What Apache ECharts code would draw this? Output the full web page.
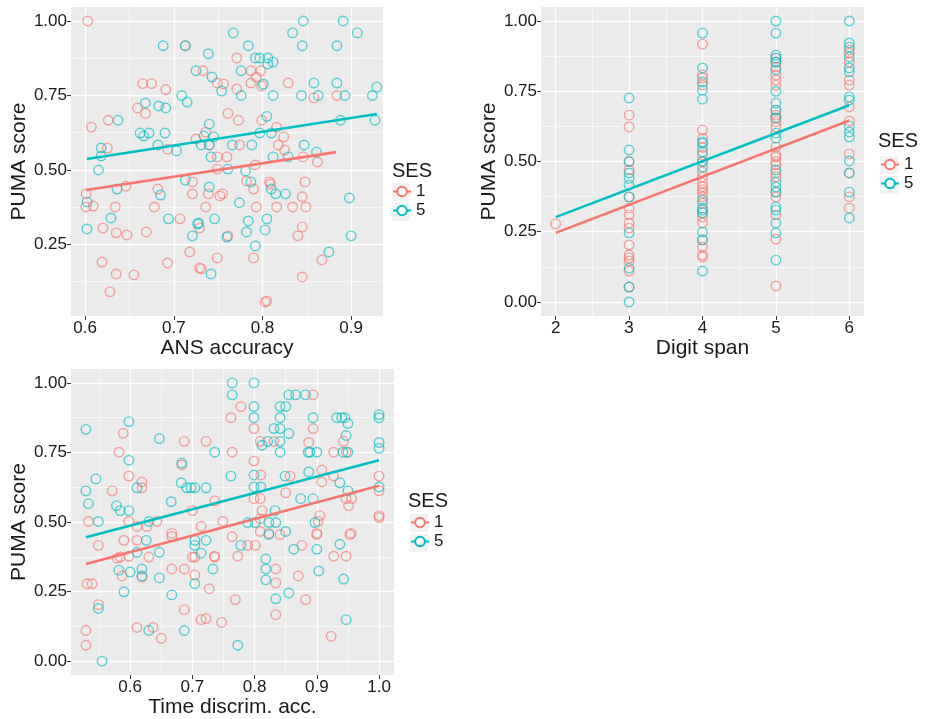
<!DOCTYPE html>
<html>
<head>
<meta charset="utf-8">
<script src="https://cdn.jsdelivr.net/npm/echarts@6/dist/echarts.min.js"></script>
<style>html,body{margin:0;padding:0;background:#fff}#main{width:927px;height:719px}</style>
</head>
<body>
<div id="main"></div>
<script>
// ANS accuracy vs PUMA score
var ansSes1 = [[0.603,1.00],[0.607,0.644],[0.626,0.667],[0.625,0.574],[0.713,0.917],[0.665,0.79],[0.675,0.79],[0.691,0.77],[0.659,0.708],[0.668,0.69],[0.693,0.57],[0.725,0.604],[0.771,0.876],[0.733,0.833],[0.787,0.833],[0.798,0.833],[0.793,0.812],[0.749,0.792],[0.756,0.789],[0.787,0.792],[0.799,0.782],[0.829,0.792],[0.858,0.742],[0.884,0.75],[0.761,0.69],[0.773,0.667],[0.799,0.667],[0.816,0.644],[0.736,0.627],[0.824,0.611],[0.740,0.584],[0.774,0.584],[0.818,0.584],[0.825,0.567],[0.749,0.544],[0.760,0.544],[0.846,0.544],[0.862,0.527],[0.771,0.772],
  [0.601,0.42],[0.601,0.376],[0.609,0.379],[0.646,0.446],[0.634,0.376],[0.62,0.305],[0.635,0.289],[0.647,0.282],[0.669,0.292],[0.619,0.191],[0.635,0.151],[0.655,0.148],[0.628,0.091],[0.682,0.436],[0.678,0.376],[0.707,0.336],[0.693,0.188],[0.721,0.46],[0.721,0.42],[0.718,0.225],[0.729,0.171],[0.749,0.503],[0.792,0.517],[0.739,0.42],[0.752,0.413],[0.755,0.42],[0.782,0.463],[0.79,0.436],[0.808,0.46],[0.809,0.453],[0.848,0.46],[0.845,0.41],[0.736,0.376],[0.793,0.376],[0.816,0.376],[0.834,0.376],[0.849,0.376],[0.729,0.305],[0.845,0.309],[0.761,0.279],[0.84,0.279],[0.749,0.205],[0.79,0.205],[0.867,0.198],[0.731,0.168],[0.845,0.141],[0.803,0.057],[0.805,0.06]];
var ansSes5 = [[0.637,0.667],[0.618,0.574],[0.618,0.547],[0.688,0.917],[0.713,0.917],[0.668,0.725],[0.683,0.715],[0.691,0.708],[0.709,0.75],[0.715,0.728],[0.725,0.833],[0.662,0.624],[0.666,0.614],[0.672,0.624],[0.69,0.624],[0.682,0.584],[0.703,0.564],
  [0.846,1.0],[0.891,1.0],[0.767,0.96],[0.834,0.96],[0.907,0.96],[0.784,0.917],[0.845,0.917],[0.884,0.917],[0.739,0.89],[0.792,0.876],[0.797,0.876],[0.806,0.876],[0.812,0.862],[0.806,0.856],[0.776,0.833],[0.743,0.812],[0.801,0.788],[0.858,0.792],[0.884,0.792],[0.754,0.765],[0.776,0.75],[0.812,0.75],[0.844,0.75],[0.863,0.75],[0.893,0.75],[0.924,0.75],[0.929,0.778],[0.805,0.68],[0.888,0.667],[0.927,0.667],[0.740,0.654],[0.734,0.614],[0.745,0.611],[0.797,0.624],[0.810,0.624],[0.731,0.584],[0.740,0.584],[0.766,0.584],[0.788,0.584],[0.847,0.584],[0.742,0.544],[0.812,0.544],[0.829,0.544],[0.861,0.56],
  [0.615,0.50],[0.602,0.393],[0.636,0.436],[0.629,0.339],[0.602,0.302],[0.685,0.416],[0.694,0.336],[0.713,0.466],[0.727,0.319],[0.721,0.279],[0.761,0.503],[0.781,0.497],[0.740,0.443],[0.787,0.46],[0.81,0.436],[0.815,0.42],[0.826,0.42],[0.774,0.39],[0.898,0.406],[0.746,0.336],[0.728,0.322],[0.784,0.329],[0.805,0.336],[0.782,0.292],[0.803,0.299],[0.76,0.275],[0.9,0.279],[0.792,0.245],[0.875,0.225],[0.742,0.151]];
var ansFit1 = [[0.601,0.433],[0.883,0.56]];
var ansFit5 = [[0.602,0.537],[0.929,0.688]];

// Digit span vs PUMA score
var spanSes1 = [[2,0.278],
  [3,0.665],[3,0.623],[3,0.5],[3,0.47],[3,0.374],[3,0.334],[3,0.31],[3,0.281],[3,0.263],[3,0.203],[3,0.167],[3,0.157],[3,0.146],[3,0.11],[3,0.053],
  [4,0.918],[4,0.808],[4,0.797],[4,0.772],[4,0.612],[4,0.583],[4,0.55],[4,0.523],[4,0.5],[4,0.463],[4,0.445],[4,0.423],[4,0.41],[4,0.4],[4,0.388],[4,0.374],[4,0.352],[4,0.317],[4,0.302],[4,0.281],[4,0.221],[4,0.196],[4,0.167],[4,0.16],
  [5,0.868],[5,0.854],[5,0.836],[5,0.808],[5,0.79],[5,0.772],[5,0.683],[5,0.665],[5,0.655],[5,0.641],[5,0.623],[5,0.552],[5,0.523],[5,0.516],[5,0.5],[5,0.488],[5,0.459],[5,0.445],[5,0.391],[5,0.374],[5,0.31],[5,0.224],[5,0.057],
  [6,0.897],[6,0.886],[6,0.854],[6,0.79],[6,0.772],[6,0.694],[6,0.644],[6,0.527],[6,0.459],[6,0.374],[6,0.334]];
var spanSes5 = [
  [3,0.726],[3,0.541],[3,0.5],[3,0.459],[3,0.44],[3,0.416],[3,0.374],[3,0.246],[3,0.12],[3,0.053],[3,0.0],
  [4,0.957],[4,0.833],[4,0.783],[4,0.754],[4,0.722],[4,0.57],[4,0.565],[4,0.534],[4,0.5],[4,0.48],[4,0.363],[4,0.334],[4,0.327],[4,0.317],[4,0.249],[4,0.221],[4,0.11],
  [5,1.0],[5,0.957],[5,0.879],[5,0.868],[5,0.854],[5,0.826],[5,0.75],[5,0.708],[5,0.683],[5,0.655],[5,0.601],[5,0.583],[5,0.47],[5,0.427],[5,0.409],[5,0.391],[5,0.338],[5,0.327],[5,0.281],[5,0.246],[5,0.149],
  [6,1.0],[6,0.922],[6,0.907],[6,0.872],[6,0.833],[6,0.819],[6,0.73],[6,0.719],[6,0.626],[6,0.605],[6,0.587],[6,0.502],[6,0.459],[6,0.391],[6,0.299]];
var spanFit1 = [[2,0.246],[6,0.646]];
var spanFit5 = [[2,0.302],[6,0.70]];

// Time discrimination accuracy vs PUMA score
var timeSes1 = [[0.589,0.819],[0.687,0.79],[0.722,0.79],[0.582,0.751],[0.683,0.705],[0.598,0.665],[0.619,0.644],[0.619,0.623],[0.571,0.612],[0.7,0.541],[0.736,0.576],[0.533,0.502],[0.598,0.502],[0.611,0.484],[0.627,0.484],[0.643,0.502],[0.714,0.484],[0.667,0.459],[0.667,0.448],
  [0.549,0.416],[0.59,0.434],[0.611,0.434],[0.579,0.37],[0.584,0.374],[0.598,0.377],[0.63,0.374],[0.7,0.374],[0.704,0.374],[0.736,0.374],[0.587,0.306],[0.619,0.302],[0.667,0.331],[0.687,0.331],[0.704,0.31],[0.531,0.278],[0.539,0.278],[0.727,0.26],[0.549,0.203],[0.687,0.185],[0.529,0.11],[0.611,0.121],[0.637,0.121],[0.65,0.082],[0.714,0.149],[0.722,0.153],[0.747,0.139],[0.529,0.057],
  [0.894,0.957],[0.778,0.915],[0.762,0.875],[0.799,0.836],[0.894,0.836],[0.809,0.79],[0.831,0.79],[0.887,0.786],[0.943,0.79],[0.764,0.751],[0.927,0.751],[0.947,0.751],[0.799,0.719],[0.81,0.669],[0.857,0.665],[0.908,0.687],[0.927,0.665],[1.0,0.665],[0.908,0.644],[1.0,0.612],[0.799,0.584],[0.809,0.584],[0.85,0.605],[0.947,0.584],[0.956,0.584],[0.951,0.559],[0.812,0.541],[0.905,0.523],[0.902,0.502],[1.0,0.523],[1.0,0.516],[0.749,0.502],[0.809,0.512],[0.764,0.447],[0.809,0.466],[0.841,0.455],[0.9,0.455],[0.953,0.455],
  [0.789,0.416],[0.801,0.416],[0.876,0.416],[0.9,0.459],[0.955,0.459],[0.823,0.459],[0.735,0.377],[0.773,0.377],[0.927,0.377],[0.947,0.377],[0.834,0.331],[0.834,0.281],[0.87,0.306],[0.769,0.221],[0.882,0.221],[0.834,0.167],[0.923,0.089]];
var timeSes5 = [[0.529,0.833],[0.598,0.861],[0.647,0.8],[0.598,0.722],[0.736,0.751],[0.683,0.712],[0.545,0.655],[0.611,0.623],[0.529,0.612],[0.682,0.641],[0.691,0.623],[0.698,0.623],[0.704,0.623],[0.722,0.623],[0.533,0.566],[0.578,0.559],[0.584,0.541],[0.598,0.541],[0.666,0.573],[0.549,0.502],[0.63,0.502],
  [0.626,0.434],[0.704,0.434],[0.704,0.416],[0.722,0.434],[0.611,0.391],[0.647,0.391],[0.714,0.388],[0.582,0.327],[0.6,0.32],[0.619,0.331],[0.619,0.306],[0.647,0.299],[0.733,0.331],[0.59,0.249],[0.667,0.238],[0.704,0.278],[0.549,0.189],[0.63,0.11],[0.687,0.11],[0.555,0.0],
  [0.764,1.0],[0.799,1.0],[0.764,0.957],[0.855,0.957],[0.866,0.957],[0.882,0.957],[0.799,0.915],[0.841,0.915],[0.85,0.915],[0.799,0.875],[0.841,0.875],[0.894,0.875],[0.932,0.875],[0.94,0.875],[0.945,0.875],[0.95,0.854],[1.0,0.886],[1.0,0.875],[0.831,0.836],[0.841,0.836],[0.855,0.818],[0.947,0.811],[0.812,0.776],[0.821,0.79],[0.841,0.79],[1.0,0.786],[1.0,0.765],[0.841,0.751],[0.886,0.751],[0.889,0.751],[0.9,0.751],[0.942,0.751],[0.95,0.751],[0.762,0.665],[0.799,0.669],[0.849,0.665],[0.887,0.68],[0.937,0.641],[0.799,0.626],[0.81,0.626],[0.874,0.584],[0.894,0.584],[0.95,0.612],[1.0,0.626],[0.833,0.541],[0.789,0.498],[0.801,0.498],[0.823,0.498],[0.834,0.498],[0.897,0.498],[0.823,0.455],[0.85,0.466],[0.937,0.42],
  [0.778,0.416],[0.863,0.402],[0.9,0.402],[0.818,0.367],[0.818,0.331],[0.818,0.292],[0.903,0.324],[0.943,0.295],[0.834,0.224],[0.855,0.245],[0.947,0.149],[0.773,0.057]];
var timeFit1 = [[0.529,0.349],[1.0,0.63]];
var timeFit5 = [[0.529,0.445],[1.0,0.722]];

// tick values
var ansXTicks = [0.6,0.7,0.8,0.9], ansXMinor = [0.65,0.75,0.85];
var spanXTicks = [2,3,4,5,6], spanXMinor = [2.5,3.5,4.5,5.5];
var timeXTicks = [0.6,0.7,0.8,0.9,1.0], timeXMinor = [0.55,0.65,0.75,0.85,0.95];
var scoreTicksA = [0.25,0.5,0.75,1.0];
var scoreTicks = [0,0.25,0.5,0.75,1.0];
var scoreMinor = [0.125,0.375,0.625,0.875];

var RED = '#F8766D', CYAN = '#00BFC4';
var FONT = 'Liberation Sans';
var TXT = '#1a1a1a';

var panels = [
	{grid:{left:71,top:7,width:312,height:309},
	 xr:[0.584,0.936], xt:ansXTicks, xm:ansXMinor, xd:1, xname:'ANS accuracy',
	 yr:[0.01,1.047], yt:scoreTicksA, ym:scoreMinor,
	 s1:ansSes1, s5:ansSes5, f1:ansFit1, f5:ansFit5,
	 leg:{left:392,top:183}, ttl:{left:392,top:161}},
	{grid:{left:541,top:7,width:323,height:309},
	 xr:[1.8,6.2], xt:spanXTicks, xm:spanXMinor, xd:0, xname:'Digit span',
	 yr:[-0.05,1.05], yt:scoreTicks, ym:scoreMinor,
	 s1:spanSes1, s5:spanSes5, f1:spanFit1, f5:spanFit5,
	 leg:{left:880,top:156}, ttl:{left:878,top:131}},
	{grid:{left:71,top:369,width:323,height:309},
	 xr:[0.505,1.024], xt:timeXTicks, xm:timeXMinor, xd:1, xname:'Time discrim. acc.',
	 yr:[-0.05,1.05], yt:scoreTicks, ym:scoreMinor,
	 s1:timeSes1, s5:timeSes5, f1:timeFit1, f5:timeFit5,
	 leg:{left:410,top:514}, ttl:{left:408,top:491}}
];

var grids = [], xAxes = [], yAxes = [], series = [], legends = [], titles = [], keys = [];

var mainAxis = function(i, range, ticks, dec, name, isY){
	return {
		type:'value', gridIndex:i, min:range[0], max:range[1],
		position: isY ? 'left' : 'bottom',
		axisLine:{show:false, onZero:false},
		axisTick:{show:true, length:4, lineStyle:{color:'#333', width:1}, customValues:ticks},
		axisLabel:{customValues:ticks, color:TXT, fontSize:17, fontFamily:FONT, margin:4,
			formatter:function(v){ return Number(v).toFixed(dec); }},
		splitLine:{show:true, lineStyle:{color:'#fff', width:1.3}},
		name:name, nameLocation:'middle', nameGap:isY ? 39 : 22,
		nameTextStyle:{fontSize:21, color:TXT, fontFamily:FONT, verticalAlign: isY ? 'bottom' : 'top'}
	};
}
var minorAxis = function(i, range, ticks, isY){
	return {
		type:'value', gridIndex:i, min:range[0], max:range[1],
		position: isY ? 'left' : 'bottom',
		axisLine:{show:false, onZero:false},
		axisTick:{show:false, customValues:ticks},
		axisLabel:{show:false, customValues:ticks},
		splitLine:{show:true, lineStyle:{color:'#fff', width:0.6}}
	};
}

panels.forEach(function(p, i){
	grids.push({left:p.grid.left, top:p.grid.top, width:p.grid.width, height:p.grid.height,
		show:true, backgroundColor:'#EBEBEB', borderWidth:0});
	xAxes.push(mainAxis(i, p.xr, p.xt, p.xd, p.xname, false));
	xAxes.push(minorAxis(i, p.xr, p.xm, false));
	yAxes.push(mainAxis(i, p.yr, p.yt, 2, 'PUMA score', true));
	yAxes.push(minorAxis(i, p.yr, p.ym, true));
	var xi = 2 * i, yi = 2 * i;
	[[p.f1, '1', RED], [p.f5, '5', CYAN]].forEach(function(f){
		series.push({type:'line', name:f[1], xAxisIndex:xi, yAxisIndex:yi, data:f[0],
			symbol:'emptyCircle', showSymbol:false, color:f[2], z:4, silent:true,
			lineStyle:{color:f[2], width:2.6}});
	});
	[[p.s1, '1', RED], [p.s5, '5', CYAN]].forEach(function(s){
		series.push({type:'scatter', name:s[1], xAxisIndex:xi, yAxisIndex:yi, data:s[0],
			symbol:'circle', symbolSize:9.5, z:3, silent:true,
			itemStyle:{color:'rgba(0,0,0,0)', borderColor:s[2], borderWidth:1.4, opacity:0.65}});
	});
	legends.push({data:['1','5'], left:p.leg.left, top:p.leg.top, orient:'vertical', padding:0,
		itemWidth:18, itemHeight:12, itemGap:2, selectedMode:false,
		textStyle:{fontSize:17, color:TXT, fontFamily:FONT}});
	titles.push({text:'SES', left:p.ttl.left, top:p.ttl.top, padding:0,
		textStyle:{fontSize:20, fontWeight:'normal', color:TXT, fontFamily:FONT}});
	// grey legend key boxes
	[0, 1].forEach(function(k){
		keys.push({type:'rect', left:p.leg.left, top:p.leg.top + 20 * k, z:0, silent:true,
			shape:{width:18, height:18}, style:{fill:'#F2F2F2'}});
	});
});

var chart = echarts.init(document.getElementById('main'));
chart.setOption({
	animation:false,
	title:titles,
	legend:legends,
	grid:grids,
	xAxis:xAxes,
	yAxis:yAxes,
	series:series,
	graphic:keys
});
</script>
</body>
</html>
